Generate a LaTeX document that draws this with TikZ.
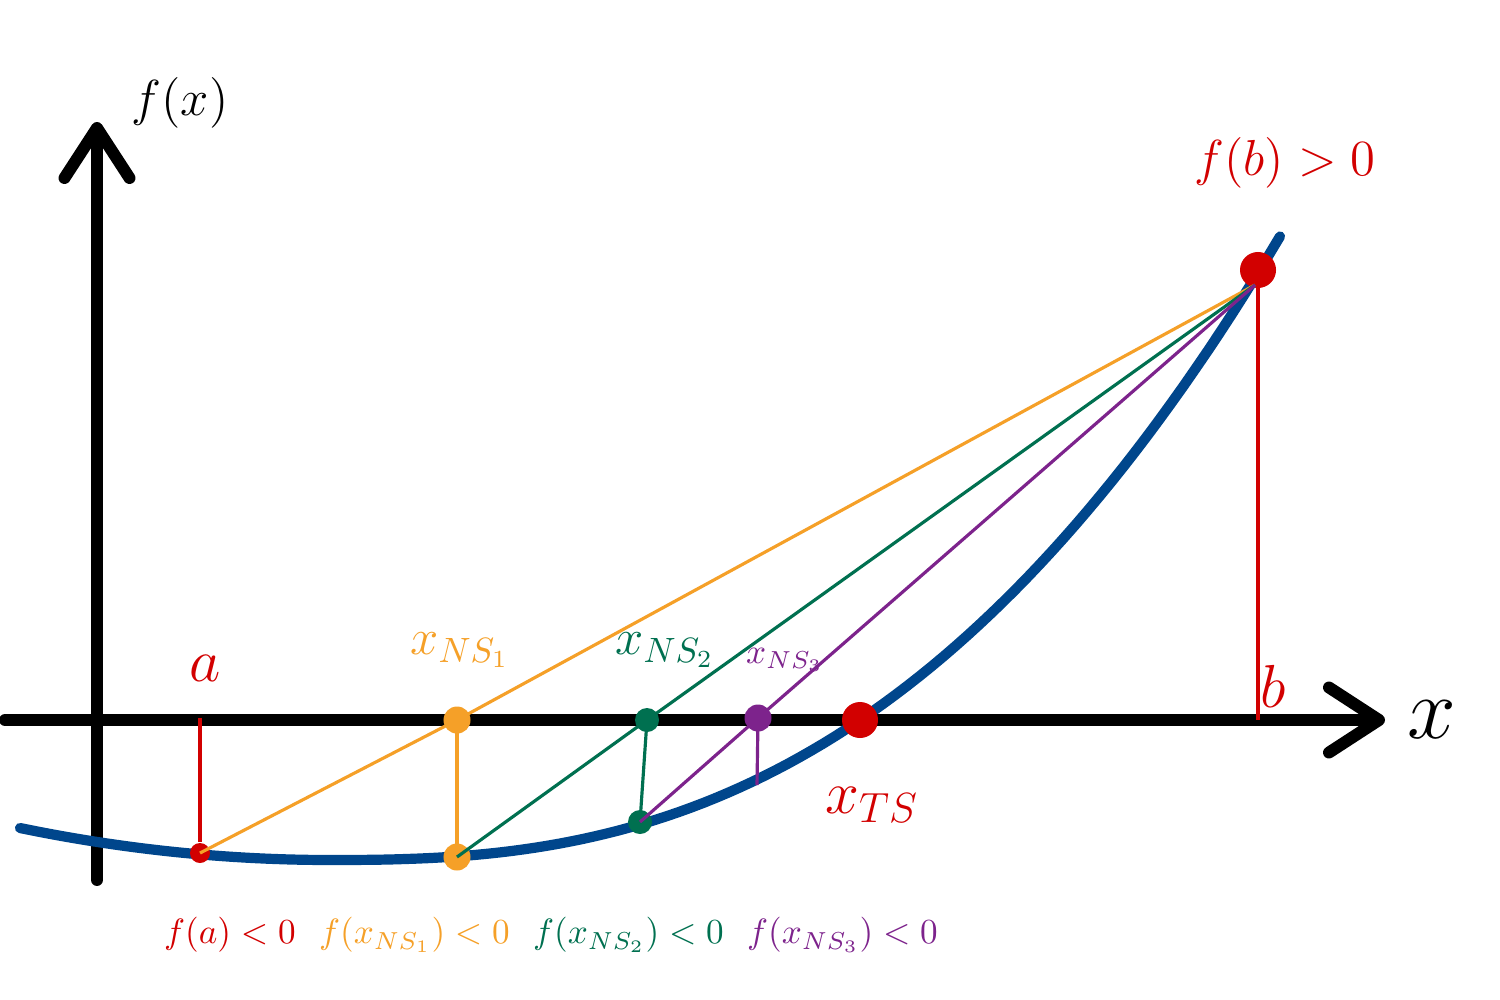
\documentclass[tikz,border=0pt]{standalone}
\usepackage{amsmath}
\usepackage{tikz}
\usetikzlibrary{arrows.meta,positioning,calc}
\definecolor{curveblue}{RGB}{0,70,140}
\definecolor{nsorange}{RGB}{245,160,40}
\definecolor{nsgreen}{RGB}{0,112,80}
\definecolor{nspurple}{RGB}{125,35,140}
\definecolor{tsred}{RGB}{210,0,0}

\begin{document}
\begin{tikzpicture}[x=0.01cm,y=-0.01cm,font=\normalsize]
\tikzset{dot/.style={circle,fill,inner sep=0pt,minimum size=#1},dot/.default=0.27cm,
  axis/.style={line width=3.4pt,line cap=round,-{Straight Barb[length=5mm,width=6.5mm,line cap=round,line join=round]}},
  sec/.style={line width=0.9pt},
  lbl/.style={inner sep=1pt}}
\useasboundingbox (0,0) rectangle (1500,1000);
% axes
\coordinate (ybot) at (97,880); \coordinate (ytop) at (97,122);
\coordinate (xleft) at (5,720); \coordinate (xright) at (1385,720);
\draw[axis] (ybot)--(ytop);
\draw[axis] (xleft)--(xright);
\node[lbl,font=\Large] (fxlbl) at (180,103) {$f(x)$};
\node[lbl,font=\Huge] (xlbl) at (1432,720) {$x$};
% function
\draw[curveblue,line width=2.9pt,line cap=round]
  plot[domain=20:330,samples=30] (\x,{860-32*((330-\x)/310)^2})
  -- plot[domain=331:1280,samples=80] (\x,{860-140*pow((\x-330)/530,2.56)});
% interval ends
\coordinate (a) at (200,718);
\coordinate (b) at (1258,720);
\coordinate (bb) at (1255,285);
\node[dot=0.2cm,tsred] (fa) at (200,853) {};
\node[lbl,tsred,font=\LARGE] (albl) at (205,668) {$a$};
\node[lbl,tsred,font=\LARGE] (blbl) at (1273,686) {$b$};
% iteration points
\node[dot,nsorange] (ns1) at (457,720) {};
\node[dot,nsorange] (f1) at (457,857) {};
\node[dot=0.24cm,nsgreen] (ns2) at (647,720) {};
\node[dot=0.24cm,nsgreen] (f2) at (640,822) {};
\node[dot,nspurple] (ns3) at (758,718) {};
\coordinate (p3) at (757,785);
\node[dot=0.36cm,tsred] (ts) at (860,720) {};
\node[dot=0.36cm,tsred] (fb) at (1258,270) {};
% secants and verticals
\draw[tsred,sec] (a)--(fa);
\draw[tsred,sec] (fb.center)--(b);
\draw[nsorange,sec] (fa.center)--(ns1.center)--(bb);
\draw[nsorange,sec] (ns1.center)--(f1.center);
\draw[nsgreen,sec] (f1.center)--(ns2.center)--(bb);
\draw[nsgreen,sec] (ns2.center)--(f2.center);
\draw[nspurple,sec] (f2.center)--(ns3.center)--(bb);
\draw[nspurple,sec] (ns3.center)--(p3);
% labels
\node[lbl,tsred,font=\Large] (fblbl) at (1285,163) {$f(b)>0$};
\node[lbl,nsorange,font=\Large] (ns1lbl) at (460,650) {$x_{NS_1}$};
\node[lbl,nsgreen,font=\Large] (ns2lbl) at (665,650) {$x_{NS_2}$};
\node[lbl,nspurple] (ns3lbl) at (785,660) {$x_{NS_3}$};
\node[lbl,tsred,font=\LARGE] (tslbl) at (872,805) {$x_{TS}$};
\node[lbl,tsred,anchor=west] (falbl) at (160,935) {$f(a)<0$};
\node[lbl,nsorange,right=0.15cm of falbl] (f1lbl) {$f(x_{NS_1})<0$};
\node[lbl,nsgreen,right=0.15cm of f1lbl] (f2lbl) {$f(x_{NS_2})<0$};
\node[lbl,nspurple,right=0.15cm of f2lbl] (f3lbl) {$f(x_{NS_3})<0$};
\end{tikzpicture}
\end{document}
